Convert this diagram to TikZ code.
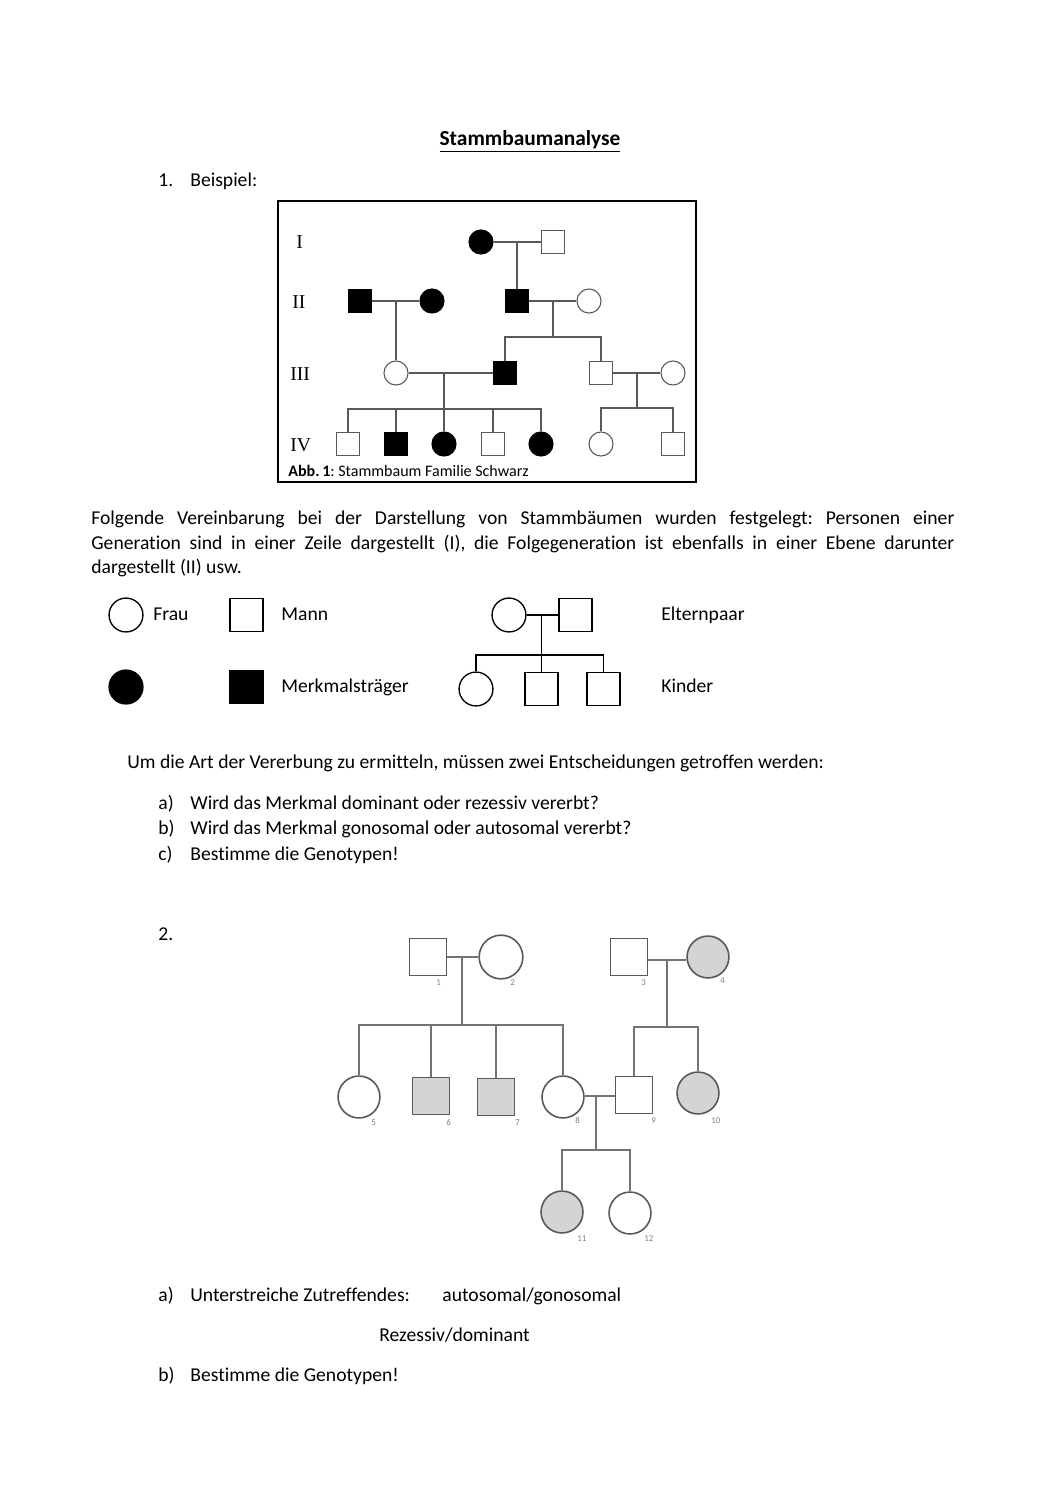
\documentclass[tikz,border=0pt]{standalone}
\usepackage{fontspec}
\setmainfont{Carlito}[Ligatures={NoCommon}]
\newfontfamily\romanfont{Liberation Serif}
\usetikzlibrary{calc}
\frenchspacing
\begin{document}
\frenchspacing
\begin{tikzpicture}[x=0.5608pt,y=-0.5608pt,
  txt/.style={anchor=base west,inner sep=0pt,font=\fontsize{11}{13.7}\selectfont},
  rom/.style={anchor=base west,inner sep=0pt,font=\romanfont\fontsize{11}{13}\selectfont},
  pl/.style={draw=black!65,line width=0.6pt},
  fa/.style={circle,draw=black!65,line width=0.6pt,fill=white,minimum size=13.5pt,inner sep=0pt},
  ma/.style={rectangle,draw=black!65,line width=0.6pt,fill=white,minimum size=13.2pt,inner sep=0pt},
  faf/.style={fa,fill=black,draw=black},
  maf/.style={ma,fill=black,draw=black},
  lg/.style={draw=black,line width=0.75pt},
  lf/.style={circle,draw=black,line width=0.75pt,minimum size=19pt,inner sep=0pt},
  lm/.style={rectangle,draw=black,line width=0.75pt,minimum size=18.5pt,inner sep=0pt},
  hl/.style={draw=black!55,line width=0.6pt},
  hf/.style={circle,draw=black!65,line width=0.9pt,minimum size=23.5pt,inner sep=0pt},
  hm/.style={rectangle,draw=black!65,line width=0.75pt,minimum size=21pt,inner sep=0pt},
  hfill/.style={fill=black!17},
  num/.style={anchor=base west,inner sep=0pt,text=black!50,font=\fontsize{5}{6}\selectfont}
]
\useasboundingbox (0,0) rectangle (1061,1500);

% Title
\node[anchor=base,inner sep=0pt,font=\bfseries\fontsize{12}{14}\selectfont] (title) at (530,145) {\underline{Stammbaumanalyse}};
\node[txt] (n1) at (158,186) {1.};
\node[txt] (beisp) at (190,186) {Beispiel:};

% ---------- Pedigree 1 ----------
\draw[line width=0.8pt] (278,201) rectangle (696,482);
\node[rom] (rI) at (296,248) {I};
\node[rom] (rII) at (292,308) {II};
\node[rom] (rIII) at (290,380) {III};
\node[rom] (rIV) at (290,451) {IV};

\node[faf] (fI) at (481,242) {};
\node[ma] (mI) at (553,242) {};
\node[maf] (mIIa) at (360,301) {};
\node[faf] (fIIa) at (432,301) {};
\node[maf] (mIIb) at (517,301) {};
\node[fa] (fIIb) at (589,301) {};
\node[fa] (fIIIa) at (396,373) {};
\node[maf] (mIIIa) at (505,373) {};
\node[ma] (mIIIb) at (601,373) {};
\node[fa] (fIIIb) at (673,373) {};
\node[ma] (ca) at (348,444) {};
\node[maf] (cb) at (396,444) {};
\node[faf] (cc) at (444,444) {};
\node[ma] (cd) at (493,444) {};
\node[faf] (ce) at (541,444) {};
\node[fa] (cf) at (601,444) {};
\node[ma] (cg) at (673,444) {};

\coordinate (jI) at (517,242);
\coordinate (jIIa) at (396,301);
\coordinate (jIIb) at (553,301);
\coordinate (sIIb) at (553,337);
\coordinate (jIIIa) at (444,373);
\coordinate (sIIIa) at (444,409);
\coordinate (jIIIb) at (637,373);
\coordinate (sIIIb) at (637,408);

\draw[pl] (fI.east) -- (mI.west);
\draw[pl] (jI) -- (mIIb.north);
\draw[pl] (mIIa.east) -- (fIIa.west);
\draw[pl] (jIIa) -- (fIIIa.north);
\draw[pl] (mIIb.east) -- (fIIb.west);
\draw[pl] (jIIb) -- (sIIb);
\draw[pl] (mIIIa.north) |- (sIIb);
\draw[pl] (mIIIb.north) |- (sIIb);
\draw[pl] (fIIIa.east) -- (mIIIa.west);
\draw[pl] (jIIIa) -- (sIIIa);
\foreach \c in {ca,cb,cc,cd,ce} \draw[pl] (\c.north) |- (sIIIa);
\draw[pl] (mIIIb.east) -- (fIIIb.west);
\draw[pl] (jIIIb) -- (sIIIb);
\foreach \c in {cf,cg} \draw[pl] (\c.north) |- (sIIIb);

\node[anchor=base west,inner sep=0pt,font=\fontsize{9}{11}\selectfont] (cap) at (288,476) {\textbf{Abb.\,1}: Stammbaum Familie Schwarz};

% ---------- Paragraph ----------
\node[anchor=north west,inner sep=0pt,text width=484pt,align=justify,font=\fontsize{11}{13.7}\selectfont] (para) at (91,511)
{\frenchspacing Folgende Vereinbarung bei der Darstellung von Stammbäumen wurden festgelegt: Personen einer\linebreak Generation sind in einer Zeile dargestellt (I), die Folgegeneration ist ebenfalls in einer Ebene darunter\linebreak dargestellt (II) usw.};

% ---------- Legend ----------
\node[lf] (lfr) at (126,615) {};
\node[txt] (tfr) at (153,620) {Frau};
\node[lm] (lma) at (246.5,615) {};
\node[txt] (tma) at (281,620) {Mann};
\node[lf,fill=black] (lfrf) at (126,687) {};
\node[lm,fill=black] (lmaf) at (246.5,687) {};
\node[txt] (tmk) at (281,692) {Merkmalsträger};

\node[lf] (ef) at (509,615) {};
\node[lm] (em) at (575.5,615) {};
\node[lf] (kf) at (476,689) {};
\node[lm] (km1) at (541.5,689) {};
\node[lm] (km2) at (603.5,689) {};
\coordinate (ej) at (541.5,615);
\coordinate (es) at (541.5,655);
\draw[lg] (ef.east) -- (em.west);
\draw[lg] (ej) -- (km1.north);
\draw[lg] (kf.north) |- (es);
\draw[lg] (km2.north) |- (es);
\node[txt] (tel) at (661,620) {Elternpaar};
\node[txt] (tki) at (661,692) {Kinder};

% ---------- Questions ----------
\node[txt] (q0) at (127,768) {Um die Art der Vererbung zu ermitteln, müssen zwei Entscheidungen getroffen werden:};
\node[txt] (qa) at (158,809) {a)};
\node[txt] (qat) at (190,809) {Wird das Merkmal dominant oder rezessiv vererbt?};
\node[txt] (qb) at (158,834) {b)};
\node[txt] (qbt) at (190,834) {Wird das Merkmal gonosomal oder autosomal vererbt?};
\node[txt] (qc) at (158,860) {c)};
\node[txt] (qct) at (190,860) {Bestimme die Genotypen!};

\node[txt] (n2) at (158,940) {2.};

% ---------- Pedigree 2 (hand drawn) ----------
\node[hm] (p1) at (428,957) {};
\node[hf,minimum size=24.5pt] (p2) at (501,957) {};
\node[hm] (p3) at (629,957) {};
\node[hf,hfill] (p4) at (708,957) {};
\node[hf] (p5) at (359,1097) {};
\node[hm,hfill] (p6) at (431,1096) {};
\node[hm,hfill] (p7) at (496,1097) {};
\node[hf] (p8) at (563,1097) {};
\node[hm] (p9) at (634,1095) {};
\node[hf,hfill] (p10) at (698,1093) {};
\node[hf,hfill] (p11) at (562,1212) {};
\node[hf] (p12) at (630,1213) {};

\coordinate (j12) at (462,957);
\coordinate (s12) at (462,1025);
\coordinate (j34) at (667,960);
\coordinate (s34) at (667,1027);
\coordinate (j89) at (596,1096);
\coordinate (s89) at (596,1150);

\draw[hl] (p1.east) -- (p2.west);
\draw[hl] (j12) -- (s12);
\foreach \c in {p5,p6,p7,p8} \draw[hl] (\c.north) |- (s12);
\draw[hl] (p3.east |- j34) -- (p4.west |- j34);
\draw[hl] (j34) -- (s34);
\foreach \c in {p9,p10} \draw[hl] (\c.north) |- (s34);
\draw[hl] (p8.east |- j89) -- (p9.west |- j89);
\draw[hl] (j89) -- (s89);
\foreach \c in {p11,p12} \draw[hl] (\c.north) |- (s89);

\node[num] (l1) at (436,985) {1};
\node[num] (l2) at (510,985) {2};
\node[num] (l3) at (641,985) {3};
\node[num] (l4) at (720,983) {4};
\node[num] (l5) at (371,1125) {5};
\node[num] (l6) at (446,1125) {6};
\node[num] (l7) at (515,1125) {7};
\node[num] (l8) at (575,1123) {8};
\node[num] (l9) at (651,1123) {9};
\node[num] (l10) at (711,1123) {10};
\node[num] (l11) at (577,1241) {11};
\node[num] (l12) at (644,1241) {12};

% ---------- Task 2 ----------
\node[txt] (ta) at (158,1301) {a)};
\node[txt] (tat) at (190,1301) {Unterstreiche Zutreffendes:};
\node[txt] (tag) at (442,1301) {autosomal/gonosomal};
\node[txt] (trd) at (379,1341) {Rezessiv/dominant};
\node[txt] (tb) at (158,1381) {b)};
\node[txt] (tbt) at (190,1381) {Bestimme die Genotypen!};
\end{tikzpicture}
\end{document}
